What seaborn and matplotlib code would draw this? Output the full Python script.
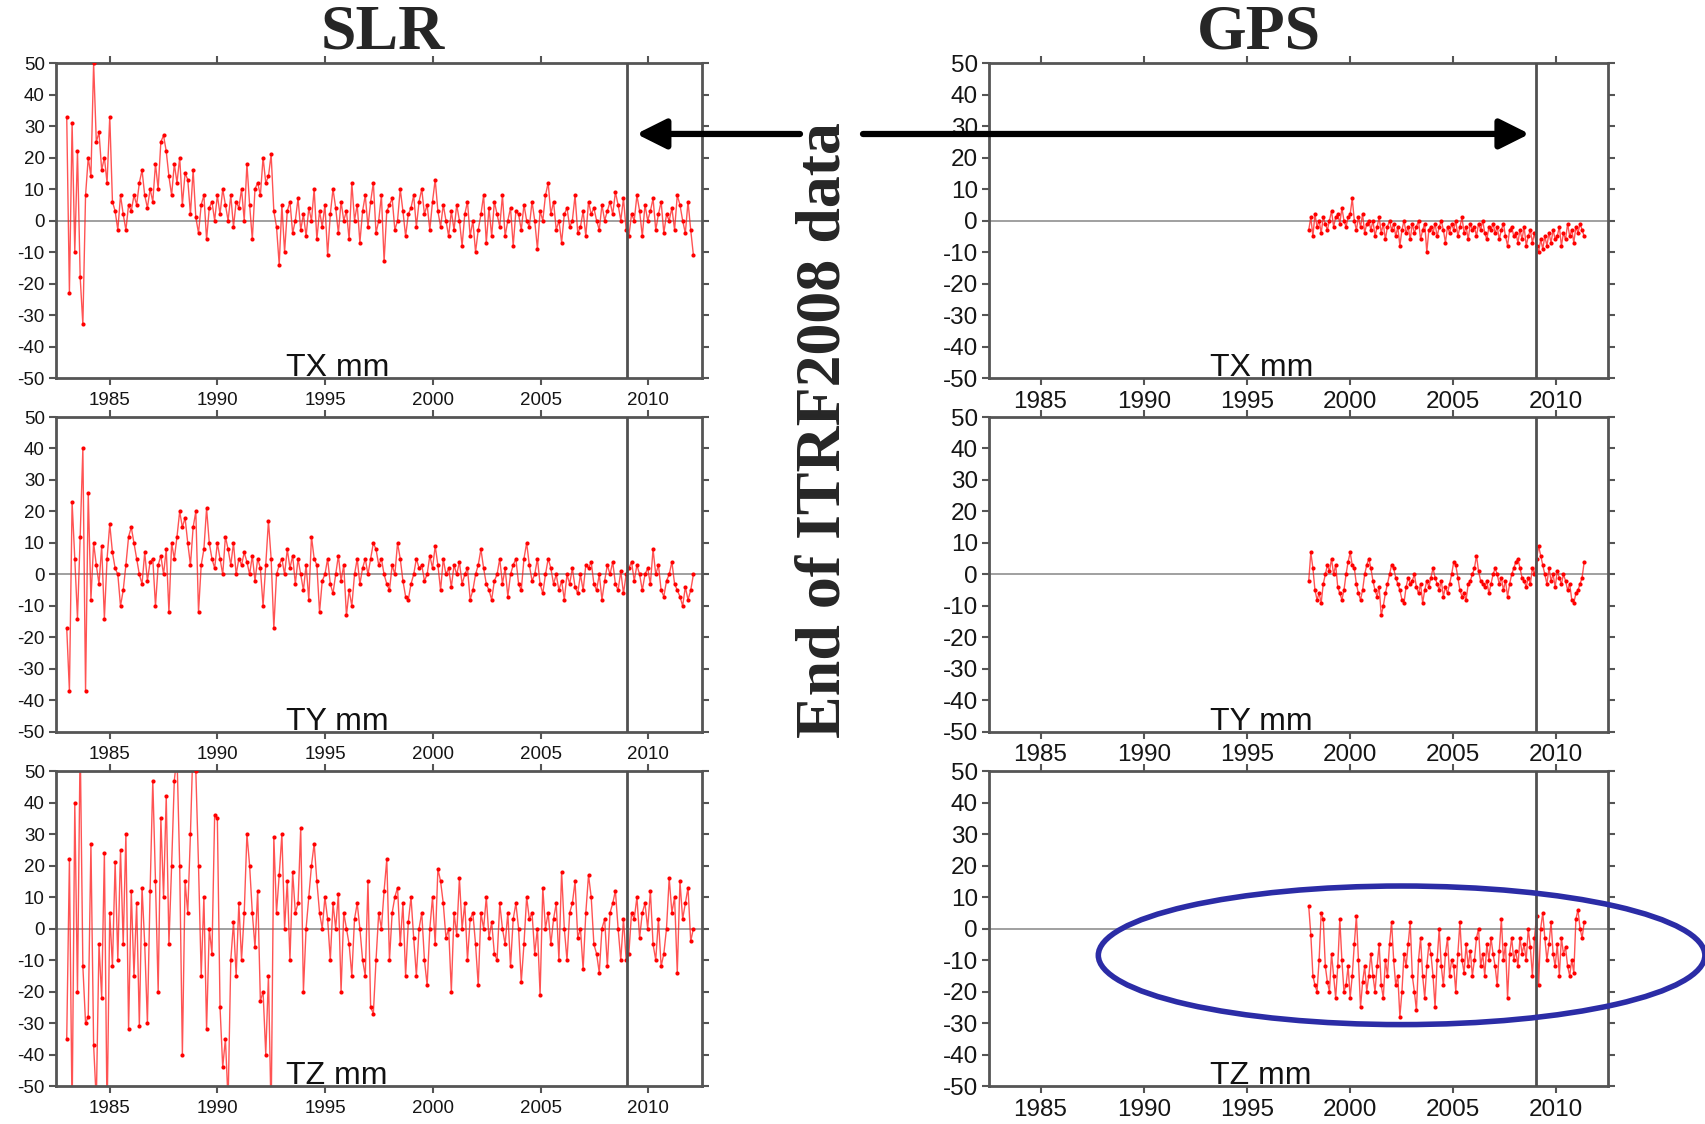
import numpy as np
import pandas as pd
import matplotlib
matplotlib.use("Agg")
import matplotlib.pyplot as plt
import seaborn as sns
from matplotlib.patches import Ellipse

# SLR geocenter series, 8 values per year from 1983.0 to 2012.1 (mm)
slr_tx = [
    33, -23, 31, -10, 22, -18, -33, 8,
    20, 14, 50, 25, 28, 16, 20, 12,
    33, 6, 3, -3, 8, 2, -3, 5,
    3, 8, 5, 12, 16, 8, 4, 10,
    6, 18, 10, 25, 27, 22, 14, 8,
    18, 12, 20, 5, 15, 13, 2, 16,
    1, -4, 5, 8, -6, 4, 6, 0,
    8, 2, 10, 5, 0, 8, -2, 6,
    4, 10, 0, 18, 5, -6, 10, 12,
    8, 20, 12, 14, 21, 3, -2, -14,
    5, -10, 3, 6, -4, 0, 7, -3,
    2, -5, 4, 0, 10, -6, 3, -2,
    5, -11, 2, 10, 4, -4, 6, 0,
    3, -6, 12, 0, 5, -7, 3, 8,
    -2, 6, 12, -4, 0, 8, -13, 3,
    5, 7, -3, 0, 10, 3, -5, 2,
    4, 8, -2, 6, 10, 2, 5, -3,
    6, 13, 3, -2, 5, 0, -5, 3,
    -3, 5, 0, -8, 2, 6, -5, 0,
    -10, -3, 2, 8, -7, 4, -5, 6,
    2, -2, 8, -5, 0, 4, -8, 3,
    2, -3, 5, 0, -2, 6, 0, -9,
    3, 0, 8, 12, 2, 6, -3, 0,
    -7, 2, 4, -2, 0, 8, -4, -2,
    3, -5, 6, 2, 4, 0, -3, 5,
    0, 3, 6, 2, 9, 5, 0, 7,
    -3, -5, 2, 0, 8, 3, -5, 5,
    0, 3, 7, -3, 2, 6, -4, 2,
    0, 4, -3, 8, 5, 0, -4, 6,
    -3, -11,
]
slr_ty = [
    -17, -37, 23, 5, -14, 12, 40, -37,
    26, -8, 10, 3, -3, 9, -14, 5,
    16, 7, 2, 0, -10, -5, 3, 12,
    15, 10, 5, 0, -3, 7, -2, 4,
    5, -10, 3, 6, 0, 8, -12, 10,
    5, 12, 20, 15, 18, 10, 3, 15,
    20, -12, 3, 8, 21, 10, 5, 2,
    10, 5, 0, 12, 8, 3, 10, 0,
    5, 3, 7, 4, 0, 6, -2, 5,
    2, -10, 3, 17, 5, -17, 0, 3,
    5, 0, 8, 2, 6, -3, 5, 0,
    -5, 3, -8, 12, 5, 3, -12, -2,
    0, 5, -3, -6, 0, 6, -2, 3,
    -13, -5, -10, 0, 5, -3, 2, 5,
    0, 5, 10, 8, 3, 5, 0, -3,
    -5, 3, 0, 10, 5, -2, -7, -8,
    -3, 0, 5, 2, 3, -2, 0, 6,
    2, 9, 3, -5, 5, 0, 2, -4,
    3, 0, 4, -3, 0, 2, -8, -5,
    0, 3, 8, 2, -3, -5, -8, -2,
    0, 5, -3, 2, -7, 0, 3, 5,
    -3, -5, 5, 10, 3, -2, 0, 5,
    -3, -6, 0, 5, 2, -3, 0, -5,
    -2, -8, 0, -3, 2, -4, -6, 0,
    -5, 3, 2, 4, -3, -5, 0, -8,
    -2, 3, 0, 4, -3, -5, 1, -6,
    0, 2, 4, -2, 3, 0, -5, 0,
    2, -3, 8, 0, 3, -5, -7, -2,
    0, 4, -3, -5, -7, -10, -4, -8,
    -5, 0,
]
slr_tz = [
    -35, 22, -60, 40, -20, 60, -12, -30,
    -28, 27, -37, -55, -5, -22, 24, -60,
    5, -12, 21, -10, 25, -5, 30, -32,
    12, -15, 8, -31, 13, -5, -30, 12,
    47, 15, -20, 35, 10, 42, -5, 20,
    47, 55, 20, -40, 15, 5, 30, 60,
    50, 20, -15, 10, -32, 0, -8, 36,
    35, -25, -44, -35, -55, -10, 2, -15,
    8, -10, 5, 30, 20, 5, -6, 12,
    -23, -20, -40, -15, -60, 29, 5, 17,
    30, 0, 15, -10, 18, 5, 8, 32,
    -20, 0, 10, 20, 27, 15, 5, 0,
    10, 3, -10, 8, 0, 11, -20, 5,
    0, -5, -15, 3, 8, 0, -10, -15,
    15, -25, -27, -10, 5, 0, 12, 22,
    -10, 5, 10, 13, -5, 8, -15, 2,
    10, -3, -15, 0, 5, -10, -18, 0,
    10, -5, 19, 15, 8, -3, 0, -20,
    5, -2, 16, 0, 8, -10, 3, 5,
    -5, -18, 5, 0, 10, -3, 2, -8,
    -10, 8, 0, -5, 5, -12, 3, 8,
    0, -17, -5, 10, 3, 5, -8, 0,
    -21, 13, 0, 5, -5, 3, 8, -10,
    18, 0, -10, 5, 8, 15, -3, 0,
    -13, 5, 17, 10, -5, -8, -14, 0,
    3, -12, 5, 8, 12, 0, -10, 3,
    -10, -8, 5, 3, 10, -3, 5, 8,
    0, 12, -5, -10, 3, -12, -8, 0,
    16, 5, 10, -14, 15, 3, 8, 13,
    -4, 0,
]

# GPS geocenter series, 10 values per year from 1998.0 to 2011.35 (mm)
gps_tx = [
    -3, 1, -5, 2, -2, 0, -4, 1, -1, -3,
    0, 3, -2, 1, 2, -1, 4, 0, -2, 1,
    2, 7, 0, -3, 1, -2, 2, -4, -1, 0,
    -3, 0, -5, -2, 1, -4, -1, -6, -2, 0,
    -3, -1, -5, -2, -8, -3, 0, -4, -2, -6,
    -1, -4, -2, 0, -6, -3, -1, -10, -3, -2,
    -4, -1, -5, -2, 0, -3, -7, -2, -4, -1,
    -3, 0, -5, -2, 1, -4, -2, -6, -1, -3,
    -2, -5, -1, -3, 0, -4, -6, -2, -3, -1,
    -4, -2, -6, -3, -1, -5, -8, -3, -2, -5,
    -4, -7, -3, -6, -2, -8, -5, -3, -7, -4,
    -8, -10, -6, -9, -5, -8, -4, -7, -3, -6,
    -5, -2, -8, -4, -6, -1, -5, -3, -7, -2,
    -4, -1, -3, -5,
]
gps_ty = [
    -2, 7, 2, -5, -8, -6, -9, -3, 0, 3,
    1, 5, 0, 3, -4, -6, -8, -5, 0, 4,
    7, 3, 2, -3, -6, -8, -5, 0, 3, 5,
    2, -2, -5, -7, -4, -13, -10, -6, -3, 0,
    3, 2, -1, -3, -5, -8, -9, -4, -1, -3,
    -2, 0, -4, -6, -3, -9, -5, -2, -4, -1,
    2, -1, -3, -5, -2, -7, -4, -6, -3, 0,
    4, 3, -1, -5, -7, -6, -8, -3, -2, 0,
    2, 6, 1, -2, -3, -4, -2, -6, -3, 0,
    2, 0, -3, -1, -5, -2, -7, -3, 0, 2,
    4, 5, 2, -1, -2, -4, -1, -3, 2, 0,
    5, 9, 6, 3, 0, -3, 2, -2, 0, -4,
    1, -1, -3, 0, -2, -5, -3, -8, -9, -6,
    -5, -3, -1, 4,
]
gps_tz = [
    7, -2, -15, -18, -20, -10, 5, 3, -12, -17,
    -20, -8, -15, -22, -12, 3, -10, -20, -18, -12,
    -22, -15, -5, 4, -10, -25, -17, -12, -20, -15,
    -8, -15, -20, -12, -5, -18, -22, -10, -15, -5,
    2, -10, -18, -15, -28, -20, -8, -12, -5, 2,
    -15, -20, -26, -10, -3, -15, -22, -12, -5, -8,
    -15, -25, -10, 0, -12, -18, -8, -3, -15, -10,
    -12, -20, -8, 2, -10, -14, -5, -12, -7, -15,
    -10, -3, 0, -12, -8, -15, -5, -10, -3, -8,
    -12, -18, -7, 3, -10, -5, -22, -8, -3, -10,
    -7, -12, -3, -8, -5, -10, 0, -6, -15, -3,
    4, -18, 0, 5, -3, -10, -5, 2, -8, -12,
    -5, -15, -3, -8, -6, -12, -15, -10, -14, 3,
    6, 0, -3, 2,
]

slr_span = (1983.0, 2012.1)
gps_span = (1998.0, 2011.35)
itrf2008_end = 2009.0
year_ticks = [1985, 1990, 1995, 2000, 2005, 2010]
mm_ticks = list(range(-50, 51, 10))
components = ["TX", "TY", "TZ"]

sns.set_theme(style="white")
plt.rcParams["font.family"] = ["Liberation Sans", "DejaVu Sans"]
plt.rcParams["axes.unicode_minus"] = False

fig = plt.figure(figsize=(17.06, 11.24), dpi=100)

row_bottoms = [0.6637, 0.3488, 0.0338]
row_h = 0.2802
left_col = (0.0328, 0.3787)
right_col = (0.5797, 0.3628)


def draw_panel(ax, span, values, label, tick_size, xpad):
    df = pd.DataFrame({"year": np.linspace(span[0], span[1], len(values)),
                       "mm": values})
    ax.axhline(0, color="#a0a0a0", lw=1.4, zorder=1)
    sns.lineplot(data=df, x="year", y="mm", ax=ax, color="#ff1a1a",
                 lw=1.0, alpha=0.75, sort=False, zorder=2)
    sns.scatterplot(data=df, x="year", y="mm", ax=ax, color="#ff0000",
                    s=9, linewidth=0, zorder=3)
    ax.axvline(itrf2008_end, color="#505050", lw=2, zorder=4)
    ax.set_xlim(1982.5, 2012.5)
    ax.set_ylim(-50, 50)
    ax.set_xticks(year_ticks)
    ax.set_yticks(mm_ticks)
    ax.set_xlabel("")
    ax.set_ylabel("")
    ax.tick_params(direction="out", length=5, width=1.5, color="#555555",
                   bottom=True, left=True, top=True, right=True,
                   labelsize=tick_size, labelcolor="#151515", pad=3)
    ax.tick_params(axis="x", pad=xpad)
    for s in ax.spines.values():
        s.set_visible(True)
        s.set_color("#555555")
        s.set_linewidth(2)
    ax.text(1993.2, -49.4, label, fontsize=23, ha="left", va="baseline",
            color="#111111", zorder=5)


slr_series = [slr_tx, slr_ty, slr_tz]
gps_series = [gps_tx, gps_ty, gps_tz]
slr_axes, gps_axes = [], []
for i, comp in enumerate(components):
    ax_l = fig.add_axes([left_col[0], row_bottoms[i], left_col[1], row_h])
    draw_panel(ax_l, slr_span, slr_series[i], comp + " mm", 13.5, 5)
    slr_axes.append(ax_l)
    ax_r = fig.add_axes([right_col[0], row_bottoms[i], right_col[1], row_h])
    draw_panel(ax_r, gps_span, gps_series[i], comp + " mm", 17.5, 4)
    gps_axes.append(ax_r)

# column titles
fig.text(0.2245, 0.9706, "SLR", fontsize=46, fontweight="bold",
         family="Liberation Serif", ha="center", va="center")
fig.text(0.738, 0.9706, "GPS", fontsize=46, fontweight="bold",
         family="Liberation Serif", ha="center", va="center")

# arrows pointing to the end of ITRF2008 data
fig.text(0.4835, 0.6174, "End of ITRF2008 data", rotation=90, fontsize=46,
         fontweight="bold", family="Liberation Serif", ha="center", va="center")
arrow_y = 1124 - 134
arrow_kw = dict(arrowstyle="-|>,head_length=0.6,head_width=0.3", lw=4.5,
                color="black", shrinkA=0, shrinkB=0, mutation_scale=30)
slr_axes[0].annotate("", xy=(2009.45, 27.5), xycoords="data",
                     xytext=(800, arrow_y), textcoords="figure pixels",
                     arrowprops=arrow_kw, annotation_clip=False)
gps_axes[0].annotate("", xy=(2008.7, 27.5), xycoords="data",
                     xytext=(863, arrow_y), textcoords="figure pixels",
                     arrowprops=arrow_kw, annotation_clip=False)

# highlight of the GPS TZ offset
gps_axes[2].add_patch(Ellipse((2002.5, -8.5), 29.4, 44, fill=False,
                              ec="#2b2ca6", lw=4, clip_on=False, zorder=6))

fig.savefig("out.png", dpi=100)
